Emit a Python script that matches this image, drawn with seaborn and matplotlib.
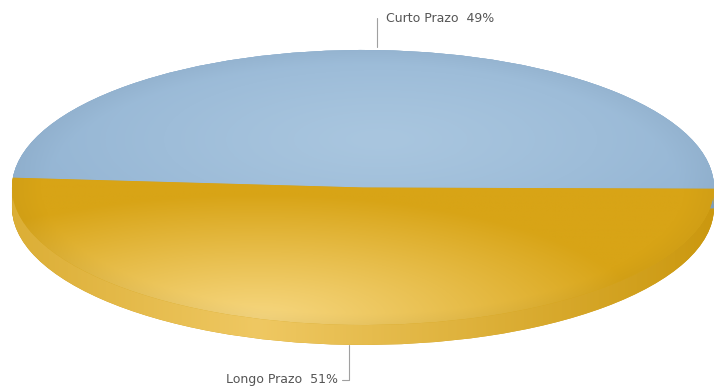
import numpy as np
import matplotlib
matplotlib.use("Agg")
import matplotlib.pyplot as plt
import seaborn as sns
from matplotlib.colors import to_rgb

# ---- data ----
categories = ["Curto Prazo", "Longo Prazo"]
values = [49, 51]
pct_labels = ["49%", "51%"]

top_base = ["#93B4D3", "#D8A416"]
top_light = ["#A9C6DF", "#F6D67E"]
side_base = ["#87A8C6", "#D1A020"]

sns.set_theme(style="white")
plt.rcParams['font.family'] = ['DejaVu Sans']

W, H = 716, 387
fig = plt.figure(figsize=(W / 100, H / 100), dpi=100)
ax = fig.add_axes([0, 0, 1, 1])
ax.set_facecolor("white")

cx, cy = 363.0, 187.5     # pixel centre of top face
rx, ry = 351.0, 137.5     # pixel radii
depth = 0.145             # side thickness in radius units (y)
xlim = (-cx / rx, (W - cx) / rx)
ylim = ((cy - H) / ry, cy / ry)
start = -0.5

# ---- side layers ----
n_layers = 30
bottom_wedges = None
for i, k in enumerate(np.linspace(depth, 0.0, n_layers)):
    wedges, _ = ax.pie(values, startangle=start, counterclock=True,
                       colors=side_base, radius=1, center=(0, -k),
                       wedgeprops=dict(linewidth=0, zorder=1))
    if i == 0:
        bottom_wedges = wedges

# grid for gradients
nx, ny = 600, 400
gx = np.linspace(xlim[0], xlim[1], nx)
gy = np.linspace(ylim[0], ylim[1], ny)
X, Y = np.meshgrid(gx, gy)


def mix(c1, c2, t):
    c1 = np.array(to_rgb(c1)); c2 = np.array(to_rgb(c2))
    t = np.clip(t, 0, 1)[..., None]
    return c1 * (1 - t) + c2 * t

# side gradients (horizontal)
side_light = ["#9BB9D4", "#EFC862"]
side_dark = ["#7D9DBD", "#CB980F"]
for i, w in enumerate(bottom_wedges):
    t = np.abs(X + 0.3) / 1.3
    img = mix(side_light[i], side_dark[i], t)
    im = ax.imshow(img, extent=(xlim[0], xlim[1], ylim[0], ylim[1]),
                   origin="lower", aspect="auto", zorder=2)
    im.set_clip_path(w)

# ---- top face ----
top_wedges, _ = ax.pie(values, startangle=start, counterclock=True,
                       colors=top_base, radius=1, center=(0, 0),
                       wedgeprops=dict(linewidth=0, zorder=3))

R = np.sqrt(X ** 2 + Y ** 2)
# blue: soft light zone near centre
d_blue = np.sqrt(((X - 0.05) / 1.1) ** 2 + ((Y - 0.35) / 0.9) ** 2)
img_b = mix(top_light[0], top_base[0], d_blue ** 1.2)
img_b = img_b * (1 - 0.03 * np.clip((R - 0.9) / 0.1, 0, 1))[..., None]
# gold: light spot at bottom-left
d_gold = np.sqrt(((X + 0.3) / 1.1) ** 2 + ((Y + 0.95) / 0.9) ** 2)
img_g = mix(top_light[1], top_base[1], d_gold ** 1.1)
img_g = img_g * (1 - 0.03 * np.clip((R - 0.92) / 0.08, 0, 1))[..., None]

for w, img in zip(top_wedges, [img_b, img_g]):
    im = ax.imshow(np.clip(img, 0, 1), extent=(xlim[0], xlim[1], ylim[0], ylim[1]),
                   origin="lower", aspect="auto", zorder=4)
    im.set_clip_path(w)

# ---- labels with leader lines ----
cum = np.cumsum([0] + values)
total = float(sum(values))
line_c = "#A0A0A0"
txt_c = "#555555"
for i, cat in enumerate(categories):
    mid = np.deg2rad(start + 360 * (cum[i] + values[i] / 2) / total)
    x0, y0 = np.cos(mid), np.sin(mid)
    if y0 > 0:
        y_lab = (cy - 18) / ry
        ax.plot([x0, x0], [y0 + 0.02, y_lab], color=line_c, lw=0.8, zorder=6)
        ax.text(x0 + 0.025, y_lab, f"{cat}  {pct_labels[i]}", ha="left", va="center",
                fontsize=9, color=txt_c, zorder=6)
    else:
        y_lab = (cy - 380) / ry
        ax.plot([x0, x0, x0 - 0.02], [y0 - depth, y_lab, y_lab], color=line_c, lw=0.8, zorder=6)
        ax.text(x0 - 0.03, y_lab, f"{cat}  {pct_labels[i]}", ha="right", va="center",
                fontsize=9, color=txt_c, zorder=6)

ax.set_aspect("auto")
ax.set_xlim(xlim)
ax.set_ylim(ylim)
ax.axis("off")

fig.savefig("out.png", dpi=100, facecolor="white")
